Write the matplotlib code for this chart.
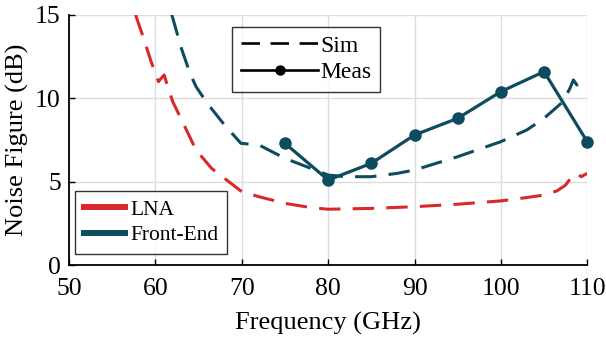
import matplotlib
matplotlib.use('Agg')
import matplotlib.pyplot as plt
from matplotlib.lines import Line2D

plt.rcParams['font.family'] = ['Liberation Serif', 'DejaVu Serif']
plt.rcParams['mathtext.fontset'] = 'stix'

red = '#D8282B'
teal = '#0C4C5E'

# simulated LNA noise figure
lna_f = [57.7, 58.5, 59.5, 60.35, 61.0, 62.0, 63.5, 64.7, 66.5, 68.5, 70.0, 72.0, 75.0, 78.0,
         80.0, 85.0, 90.0, 95.0, 100.0, 103.0, 105.0, 106.5, 107.5, 108.2, 108.8, 109.3, 110.0]
lna_nf = [15.0, 13.8, 12.2, 11.0, 11.4, 9.8, 8.2, 6.9, 5.8, 5.0, 4.4, 4.1, 3.7, 3.45,
          3.35, 3.4, 3.5, 3.65, 3.85, 4.05, 4.2, 4.45, 4.8, 5.3, 5.5, 5.3, 5.5]

# simulated front-end noise figure
fe_f = [61.9, 63.0, 64.0, 64.7, 66.0, 68.0, 69.9, 72.0, 75.0, 78.0, 80.0, 82.0, 85.0,
        88.0, 90.0, 95.0, 100.0, 103.0, 105.0, 107.2, 108.0, 108.4, 108.8, 109.3, 110.0]
fe_nf = [15.0, 13.0, 11.5, 10.7, 9.7, 8.4, 7.3, 7.2, 6.4, 5.8, 5.4, 5.3, 5.3,
         5.5, 5.7, 6.5, 7.4, 8.1, 8.8, 9.8, 10.6, 11.1, 10.8, 11.0, 10.9]

# measured front-end noise figure
meas_f = [75, 80, 85, 90, 95, 100, 105, 110]
meas_nf = [7.3, 5.1, 6.1, 7.8, 8.8, 10.4, 11.6, 7.4]

fig = plt.figure(figsize=(6.06, 3.39), dpi=100)
ax = fig.add_axes([0.114, 0.218, 0.855, 0.738])

dash = (7, 4)
ax.plot(lna_f, lna_nf, color=red, lw=2.2, dashes=dash)
ax.plot(fe_f, fe_nf, color=teal, lw=2.2, dashes=dash)
ax.plot(meas_f, meas_nf, color=teal, lw=2.3, marker='o', ms=8, clip_on=False, zorder=3)

ax.set_xlim(50, 110)
ax.set_ylim(0, 15)
ax.set_xticks(range(50, 111, 10))
ax.set_yticks([0, 5, 10, 15])
ax.grid(True, color='#dcdcdc', lw=1.0)
ax.set_axisbelow(True)
for s in ['top', 'right']:
    ax.spines[s].set_visible(False)
for s in ['left', 'bottom']:
    ax.spines[s].set_linewidth(1.3)
ax.tick_params(direction='in', labelsize=18.5, length=4, width=1)
ax.tick_params(axis='x', pad=9)
ax.tick_params(axis='y', pad=6)
ax.set_xlabel('Frequency (GHz)', fontsize=19, labelpad=9)
ax.set_ylabel('Noise Figure (dB)', fontsize=19, labelpad=4)

h1 = [Line2D([], [], color='black', lw=1.9, dashes=dash),
      Line2D([], [], color='black', lw=1.9, marker='o', ms=6.5)]
leg1 = ax.legend(h1, ['Sim', 'Meas'], loc='upper left', bbox_to_anchor=(0.315, 0.952),
                 fontsize=17, frameon=True, fancybox=False, edgecolor='black',
                 handlelength=3.3, handletextpad=0.1, borderpad=0.35, labelspacing=0.22,
                 borderaxespad=0)
leg1.get_frame().set_linewidth(1.0)
ax.add_artist(leg1)

h2 = [Line2D([], [], color=red, lw=4.3), Line2D([], [], color=teal, lw=4.3)]
leg2 = ax.legend(h2, ['LNA', 'Front-End'], loc='lower left', bbox_to_anchor=(0.0116, 0.044),
                 fontsize=15.5, frameon=True, fancybox=False, edgecolor='black',
                 handlelength=1.9, handletextpad=0.28, borderpad=0.4, labelspacing=0.25,
                 borderaxespad=0)
leg2.get_frame().set_linewidth(1.0)

fig.savefig('out.png', dpi=100)
